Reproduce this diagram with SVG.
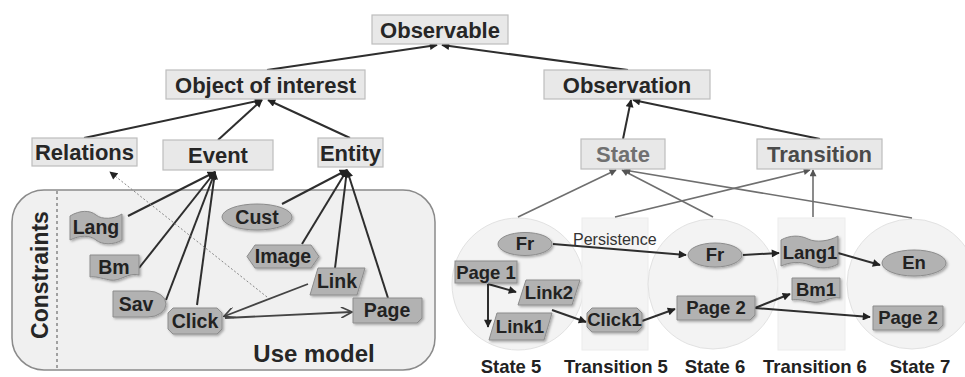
<svg xmlns="http://www.w3.org/2000/svg" width="965" height="377" viewBox="0 0 965 377">
<defs>
<style>
.box{fill:#e8e8e8;stroke:#bdbdbd;stroke-width:1.2}
.bt{font-family:"Liberation Sans",Arial,sans-serif;font-weight:bold;font-size:22px;fill:#262626;text-anchor:middle}
.nd{fill:#b2b2b2;stroke:#8c8c8c;stroke-width:1;filter:url(#sh)}
.nt{font-family:"Liberation Sans",Arial,sans-serif;font-weight:bold;font-size:19.5px;fill:#222;text-anchor:middle}
.rt{font-family:"Liberation Sans",Arial,sans-serif;font-weight:bold;font-size:18.5px;fill:#222;text-anchor:middle}
.lb{font-family:"Liberation Sans",Arial,sans-serif;font-weight:bold;font-size:18.5px;fill:#222;text-anchor:middle}
.dk{fill:none;stroke:#2e2e2e;stroke-width:2;marker-end:url(#ah)}
.gr{fill:none;stroke:#6f6f6f;stroke-width:1.6;marker-end:url(#ag)}
.op{fill:none;stroke:#444;stroke-width:1.8;marker-end:url(#ao)}
.st{fill:#f3f3f3;stroke:#e2e2e2;stroke-width:1}
.tr{fill:#f4f4f4;stroke:#ececec;stroke-width:1}
</style>
<filter id="sh" x="-20%" y="-20%" width="150%" height="150%">
<feDropShadow dx="1.5" dy="1.5" stdDeviation="1" flood-color="#000" flood-opacity="0.3"/>
</filter>
<marker id="ah" viewBox="0 0 10 10" refX="9" refY="5" markerWidth="9" markerHeight="8" markerUnits="userSpaceOnUse" orient="auto"><path d="M0,0 L10,5 L0,10 Z" fill="#222"/></marker>
<marker id="ag" viewBox="0 0 10 10" refX="9" refY="5" markerWidth="8" markerHeight="7" markerUnits="userSpaceOnUse" orient="auto"><path d="M0,0 L10,5 L0,10 Z" fill="#555"/></marker>
<marker id="ao" viewBox="0 0 10 10" refX="9" refY="5" markerWidth="12" markerHeight="11" markerUnits="userSpaceOnUse" orient="auto"><path d="M0,0 L10,5 L0,10" fill="none" stroke="#444" stroke-width="1.5"/></marker>
</defs>
<rect width="965" height="377" fill="#fff"/>

<g id="use-model">
<rect x="12" y="190" width="423" height="180" rx="32" ry="32" fill="#f0f0f0" stroke="#8a8a8a" stroke-width="1.5"/>
<line x1="57" y1="191" x2="57" y2="369" stroke="#777" stroke-width="1.3" stroke-dasharray="3,3"/>
<text transform="translate(48,275) rotate(-90)" class="bt" style="font-size:23px">Constraints</text>
<text x="314" y="362" class="bt" style="font-size:24px">Use model</text>
</g>
<g id="state5-bg"><circle cx="518" cy="284" r="66" class="st"/></g>
<g id="transition5-bg"><rect x="582" y="218" width="66" height="132" class="tr"/></g>
<g id="state6-bg"><circle cx="713" cy="284" r="65" class="st"/></g>
<g id="transition6-bg"><rect x="778" y="218" width="67" height="132" class="tr"/></g>
<g id="state7-bg"><circle cx="912" cy="284" r="65" class="st"/></g>

<g id="connectors">
<path class="dk" d="M267,70 L437,45"/>
<path class="dk" d="M628,70 L442,45"/>
<path class="dk" d="M84,138 L262,100"/>
<path class="dk" d="M218,140 L262,100"/>
<path class="dk" d="M350,138 L268,100"/>
<path class="dk" d="M623,139 L631,100"/>
<path class="dk" d="M820,139 L633,100"/>
<path class="dk" d="M128,216 L215,172"/>
<path class="dk" d="M139,268 L215,172"/>
<path class="dk" d="M166,300 L215,172"/>
<path class="dk" d="M197,305 L215,172"/>
<path class="dk" d="M282,204 L347,170"/>
<path class="dk" d="M302,244 L347,170"/>
<path class="dk" d="M335,268 L347,170"/>
<path class="dk" d="M388,298 L347,170"/>
<path d="M267,297 L110,172" fill="none" stroke="#888" stroke-width="1" stroke-dasharray="2,2" marker-end="url(#ah)"/>
<path class="op" d="M308,284 L225,316"/>
<path class="op" d="M225,318 L351,312"/>
<path class="gr" d="M518,217 L616,170"/>
<path class="gr" d="M713,217 L622,170"/>
<path class="gr" d="M912,218 L624,170"/>
<path class="gr" d="M615,217 L810,170"/>
<path class="gr" d="M813,217 L813,170"/>
<path class="dk" d="M553,244 L686,255"/>
<path class="dk" d="M743,255 L779,253"/>
<path class="dk" d="M838,253 L880,265"/>
<path class="dk" d="M488,284 L488,327"/>
<path class="dk" d="M488,284 L516,292"/>
<path class="dk" d="M552,310 L586,322"/>
<path class="dk" d="M642,321 L675,309"/>
<path class="dk" d="M755,308 L790,294"/>
<path class="dk" d="M755,308 L870,317"/>
</g>

<g id="observable"><rect x="372" y="15" width="136" height="29" class="box"/><text x="440" y="37.5" class="bt">Observable</text></g>
<g id="object-of-interest"><rect x="166" y="70" width="199" height="29" class="box"/><text x="265.5" y="92.5" class="bt">Object of interest</text></g>
<g id="observation"><rect x="544" y="70" width="166" height="29" class="box"/><text x="627" y="92.5" class="bt">Observation</text></g>
<g id="relations"><rect x="32" y="138" width="105" height="28" class="box"/><text x="84.5" y="160" class="bt">Relations</text></g>
<g id="event"><rect x="163" y="140" width="110" height="30" class="box"/><text x="218" y="163" class="bt">Event</text></g>
<g id="entity"><rect x="318" y="138" width="65" height="29" class="box"/><text x="350.5" y="160.5" class="bt">Entity</text></g>
<g id="state"><rect x="581" y="139" width="84" height="30" class="box"/><text x="623" y="162" class="bt" style="fill:#707070">State</text></g>
<g id="transition"><rect x="757" y="139" width="125" height="30" class="box"/><text x="819.5" y="162" class="bt" style="fill:#4a4a4a">Transition</text></g>

<g id="lang"><path class="nd" d="M70,216 C80,210 90,210 96,215 C102,220 114,219 122,214 L122,240 C114,245 102,245 96,240 C90,235 80,235 70,240 Z"/><text x="96" y="234" class="nt">Lang</text></g>
<g id="bm"><path class="nd" d="M90,255 L139,255 L139,275 C128,272 120,282 110,280 C100,278 95,276 90,277 Z"/><text x="114" y="274" class="nt">Bm</text></g>
<g id="sav"><path class="nd" d="M113,291 L148,291 A18,13 0 0 1 148,317 L113,317 Z"/><text x="136" y="311" class="nt">Sav</text></g>
<g id="click"><path class="nd" d="M173,308 L217,308 L222,313 L222,329 L217,334 L173,334 L168,329 L168,313 Z"/><text x="195" y="328" class="nt">Click</text></g>
<g id="cust"><ellipse class="nd" cx="257" cy="217" rx="35" ry="13"/><text x="257" y="224" class="nt">Cust</text></g>
<g id="image"><path class="nd" d="M255,245 L311,245 L319,256.5 L311,268 L255,268 L247,256.5 Z"/><text x="283" y="263" class="nt">Image</text></g>
<g id="link"><path class="nd" d="M318,268 L365,268 L357,295 L310,295 Z"/><text x="337" y="288" class="nt">Link</text></g>
<g id="page"><path class="nd" d="M353,298 L422,298 L422,318 L417,323 L353,323 Z"/><text x="387" y="317" class="nt">Page</text></g>

<text x="573" y="245" font-family="'Liberation Sans',Arial,sans-serif" font-size="16" fill="#333">Persistence</text>
<g id="fr5"><ellipse class="nd" cx="525" cy="244" rx="27" ry="11.5"/><text x="525" y="250" class="rt">Fr</text></g>
<g id="page1"><rect class="nd" x="455" y="261" width="62" height="22"/><text x="486" y="279" class="rt">Page 1</text></g>
<g id="link2"><path class="nd" d="M526,280 L580,280 L572,305 L518,305 Z"/><text x="549" y="299" class="rt">Link2</text></g>
<g id="link1"><path class="nd" d="M497,313 L552,313 L544,340 L489,340 Z"/><text x="520" y="333" class="rt">Link1</text></g>
<g id="click1"><path class="nd" d="M592,308 L637,308 L642,313 L642,327 L637,332 L592,332 L587,327 L587,313 Z"/><text x="614.5" y="326" class="rt">Click1</text></g>
<g id="fr6"><ellipse class="nd" cx="715" cy="255" rx="27" ry="12"/><text x="715" y="261" class="rt">Fr</text></g>
<g id="page2a"><path class="nd" d="M677,296 L755,296 L755,315 L750,320 L677,320 Z"/><text x="716" y="314" class="rt">Page 2</text></g>
<g id="lang1"><path class="nd" d="M781,240 C790,235 800,235 808,239 C816,243 830,241 838,236 L838,264 C830,269 818,269 810,265 C800,261 790,262 781,266 Z"/><text x="810" y="259" class="rt">Lang1</text></g>
<g id="bm1"><path class="nd" d="M792,278 L840,278 L840,298 C830,296 822,304 812,302 C802,300 797,299 792,300 Z"/><text x="816" y="296" class="rt">Bm1</text></g>
<g id="en"><ellipse class="nd" cx="914" cy="263" rx="32" ry="13"/><text x="914" y="269" class="rt">En</text></g>
<g id="page2b"><path class="nd" d="M873,306 L943,306 L943,325 L938,330 L873,330 Z"/><text x="908" y="324" class="rt">Page 2</text></g>

<g id="labels">
<text x="511" y="373" class="lb">State 5</text>
<text x="616" y="373" class="lb">Transition 5</text>
<text x="715" y="373" class="lb">State 6</text>
<text x="815" y="373" class="lb">Transition 6</text>
<text x="920" y="373" class="lb">State 7</text>
</g>
</svg>
